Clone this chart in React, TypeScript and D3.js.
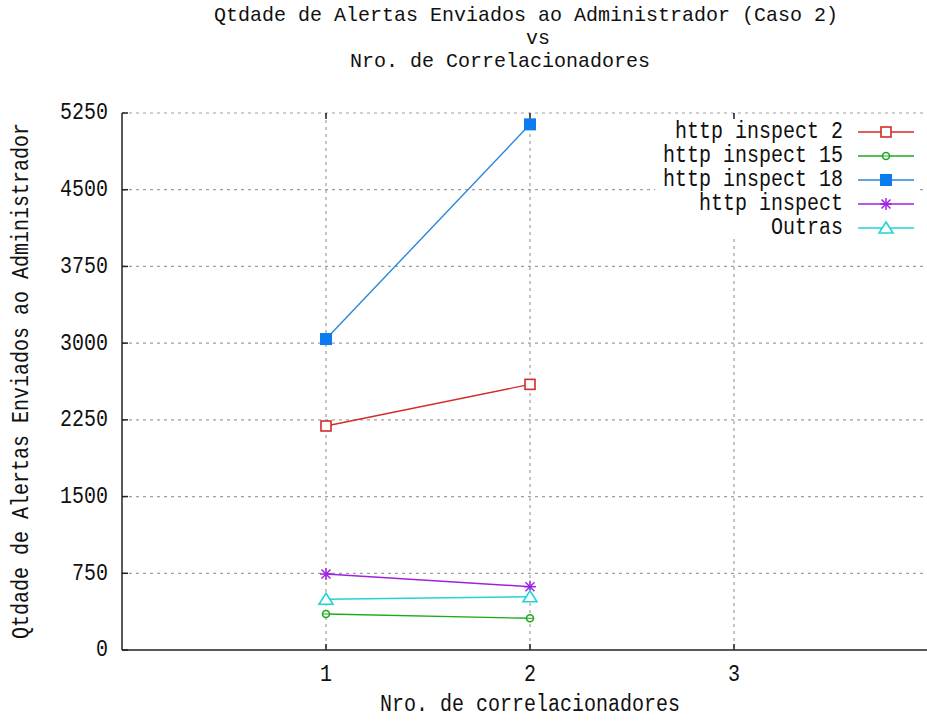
import React from 'react';
import * as d3 from 'd3';

const correlacionadores = [1, 2];
const inspect2 = [2190, 2597];
const inspect15 = [352, 310];
const inspect18 = [3040, 5139];
const inspectGeral = [743, 619];
const outras = [496, 521];

const seriesNames = ['http inspect 2', 'http inspect 15', 'http inspect 18', 'http inspect', 'Outras'];
const seriesColors = ['#d42a2a', '#1ea81e', '#2a86d6', '#a020e0', '#22d4d4'];
const markerTypes = ['square', 'circle', 'filled', 'star', 'triangle'];
const yTicks = [0, 750, 1500, 2250, 3000, 3750, 4500, 5250];
const xTicks = [1, 2, 3];

const FONT = '"Liberation Mono", "DejaVu Sans Mono", monospace';

const Txt = ({ x, y, anchor = 'middle', rotate = 0, size = 20, sy = 1.15, children }: any) => (
  <g transform={`translate(${x},${y}) rotate(${rotate}) scale(1,${sy})`}>
    <text x={0} y={0} textAnchor={anchor} dominantBaseline="central" fontFamily={FONT} fontSize={size} fill="#111">
      {children}
    </text>
  </g>
);

const Marker = ({ type, x, y, color }: any) => {
  if (type === 'square') return <rect x={x - 5} y={y - 5} width={10} height={10} fill="white" stroke={color} strokeWidth={1.6} />;
  if (type === 'filled') return <rect x={x - 6} y={y - 6} width={12} height={12} fill="#0a7cf0" />;
  if (type === 'circle')
    return (
      <g>
        <circle cx={x} cy={y} r={3.5} fill="white" stroke={color} strokeWidth={1.6} />
        <line x1={x - 3} x2={x + 3} y1={y} y2={y} stroke={color} strokeWidth={1} />
      </g>
    );
  if (type === 'star')
    return (
      <g stroke={color} strokeWidth={1.5}>
        <line x1={x - 6} x2={x + 6} y1={y} y2={y} />
        <line x1={x} x2={x} y1={y - 6} y2={y + 6} />
        <line x1={x - 4.5} x2={x + 4.5} y1={y - 4.5} y2={y + 4.5} />
        <line x1={x - 4.5} x2={x + 4.5} y1={y + 4.5} y2={y - 4.5} />
      </g>
    );
  return <path d={`M${x},${y - 6}L${x + 7},${y + 5}L${x - 7},${y + 5}Z`} fill="white" stroke={color} strokeWidth={1.6} />;
};

export default function App() {
  const width = 927;
  const height = 724;
  const left = 122;
  const top = 113;
  const bottom = 650;

  const x = d3.scaleLinear().domain([0, 4]).range([left, left + 4 * 204]);
  const y = d3.scaleLinear().domain([0, 5250]).range([bottom, top]);

  const allSeries = [inspect2, inspect15, inspect18, inspectGeral, outras];
  const line = d3
    .line<number>()
    .x((_, i) => x(correlacionadores[i]))
    .y((d) => y(d));

  const legendY = [132, 156, 180, 204, 228];

  return (
    <svg width={width} height={height} style={{ position: 'absolute', left: 0, top: 0, background: 'white' }}>
      <rect width={width} height={height} fill="white" />
      {/* grid */}
      {yTicks.slice(1).map((t) => (
        <line key={'gy' + t} x1={left} x2={width} y1={y(t)} y2={y(t)} stroke="#a0a0a0" strokeWidth={1.2} strokeDasharray="3,4" />
      ))}
      {xTicks.map((t) => (
        <line key={'gx' + t} x1={x(t)} x2={x(t)} y1={top} y2={bottom} stroke="#a0a0a0" strokeWidth={1.2} strokeDasharray="3,4" />
      ))}
      {/* axes */}
      <line x1={left} x2={left} y1={top} y2={bottom} stroke="#222" strokeWidth={1.5} />
      <line x1={left} x2={width} y1={bottom} y2={bottom} stroke="#222" strokeWidth={1.5} />
      {yTicks.map((t) => (
        <g key={'ty' + t}>
          <line x1={left} x2={left + 6} y1={y(t)} y2={y(t)} stroke="#222" strokeWidth={1.5} />
          <Txt x={108} y={y(t)} anchor="end">{t}</Txt>
        </g>
      ))}
      {xTicks.map((t) => (
        <g key={'tx' + t}>
          <line x1={x(t)} x2={x(t)} y1={bottom} y2={bottom - 6} stroke="#222" strokeWidth={1.5} />
          <line x1={x(t)} x2={x(t)} y1={top} y2={top + 6} stroke="#222" strokeWidth={1.5} />
          <Txt x={x(t)} y={675}>{t}</Txt>
        </g>
      ))}
      {/* legend box */}
      <rect x={655} y={119} width={265} height={120} fill="white" />
      {/* series */}
      {allSeries.map((s, k) => (
        <g key={'s' + k}>
          <path d={line(s) || ''} fill="none" stroke={seriesColors[k]} strokeWidth={1.4} />
          {s.map((v, i) => (
            <Marker key={i} type={markerTypes[k]} x={x(correlacionadores[i])} y={y(v)} color={seriesColors[k]} />
          ))}
        </g>
      ))}
      {/* legend */}
      {seriesNames.map((n, k) => (
        <g key={'l' + k}>
          <Txt x={843} y={legendY[k]} anchor="end">{n}</Txt>
          <line x1={858} x2={914} y1={legendY[k]} y2={legendY[k]} stroke={seriesColors[k]} strokeWidth={1.4} />
          <Marker type={markerTypes[k]} x={886} y={legendY[k]} color={seriesColors[k]} />
        </g>
      ))}
      {/* titles */}
      <Txt x={526} y={15} sy={1.05}>Qtdade de Alertas Enviados ao Administrador (Caso 2)</Txt>
      <Txt x={538} y={38} sy={1.05}>vs</Txt>
      <Txt x={500} y={61} sy={1.05}>Nro. de Correlacionadores</Txt>
      <Txt x={530} y={705}>Nro. de correlacionadores</Txt>
      <Txt x={22} y={381} rotate={-90}>Qtdade de Alertas Enviados ao Administrador</Txt>
    </svg>
  );
}
